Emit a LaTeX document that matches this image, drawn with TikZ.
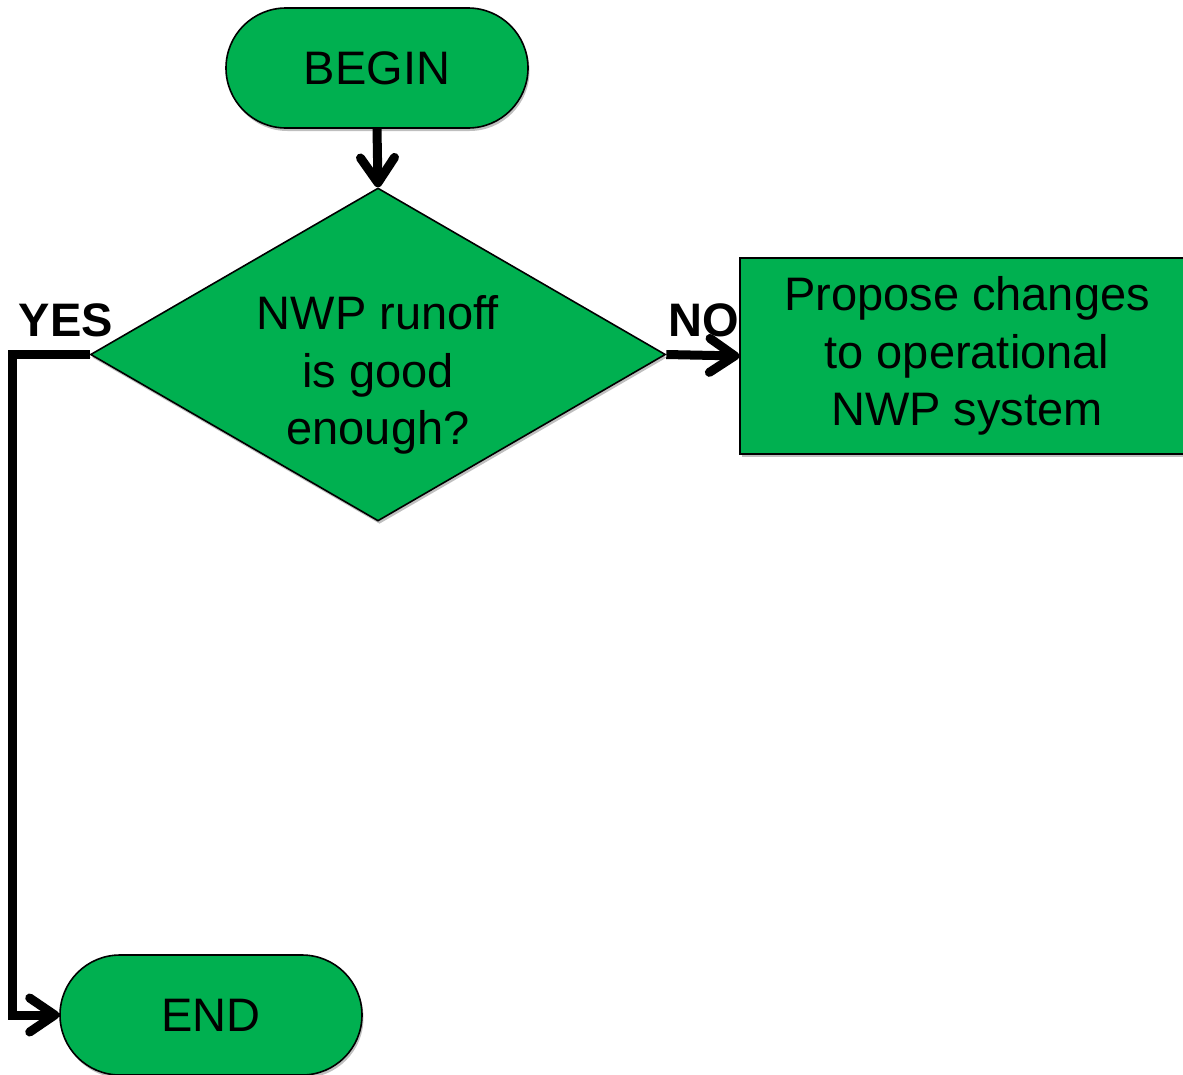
\documentclass[tikz,border=0pt]{standalone}
\usepackage{fontspec}
\setmainfont{Liberation Sans}
\usetikzlibrary{shapes.geometric,arrows.meta,shadows}
\definecolor{flowgreen}{RGB}{0,176,80}
\begin{document}
\begin{tikzpicture}[x=1pt,y=-1pt,
  every node/.style={font=\fontsize{47}{57.5}\selectfont},
  boxline/.style={draw=black, line width=1.6pt, fill=flowgreen},
  softshadow/.style={drop shadow={shadow xshift=1.5pt, shadow yshift=-3pt, opacity=0.25, fill=black}},
  terminal/.style={boxline, softshadow, rounded corners=60pt,
    minimum width=302pt, minimum height=120pt, inner sep=0pt},
  decision/.style={diamond, boxline, softshadow, aspect=1.727,
    minimum width=575pt, minimum height=333pt, inner sep=0pt},
  process/.style={rectangle, boxline, softshadow, align=center,
    minimum width=454pt, minimum height=196pt, inner sep=0pt},
  answer/.style={font=\fontsize{47}{57.5}\selectfont\bfseries},
  flow/.style={line width=9pt,
    preaction={draw=black, opacity=0.18, transform canvas={shift={(1.5pt,-3pt)}}},
    -{Straight Barb[length=25pt,width=34pt,line width=9pt,line cap=round,line join=round]}}
]
\useasboundingbox (0,0) rectangle (1183,1074);
\clip (0,0) rectangle (1183,1074);

% shapes
\node[terminal] (begin) at (377,68) {BEGIN};
\node[decision] (test) at (378,354.5) {};
\node[align=center] (testtext) at (378,375) {NWP runoff\\is good\\enough?};
\node[process] (propose) at (967,356) {Propose changes\\to operational\\NWP system};
\node[terminal] (end) at (211,1015) {END};

% branch labels
\node[answer] (yes) at (66,320) {YES};
\node[answer] (no) at (704,320) {NO};

% connectors
\coordinate (yesbend) at (12,354.5);
\draw[flow] (begin.south) -- (test.north);
\draw[flow] (test.east) -- (propose.west);
\draw[flow] (test.west) -- (yesbend) |- (end.west);
\end{tikzpicture}
\end{document}
